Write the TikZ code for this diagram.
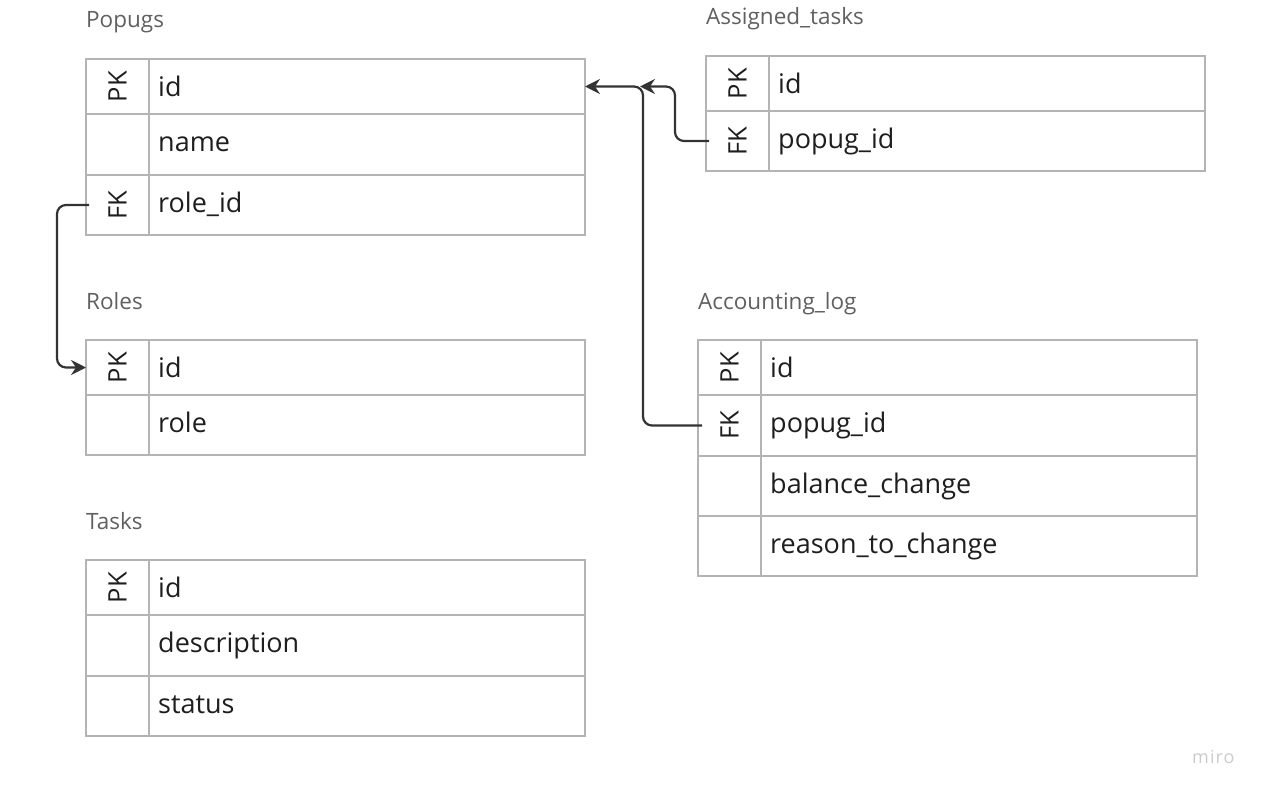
\documentclass[tikz,border=0pt]{standalone}
\usepackage{fontspec}
\setmainfont{Open Sans}
\usetikzlibrary{arrows.meta,calc}
\definecolor{cellborder}{HTML}{B4B4B4}
\definecolor{fieldink}{HTML}{1E1E1E}
\definecolor{titleink}{HTML}{606060}
\definecolor{connink}{HTML}{333333}
\definecolor{markink}{HTML}{CCCCCC}
\tikzset{
  keycell/.style={draw=cellborder, line width=1.2pt, minimum width=63pt, inner sep=0pt, outer sep=0pt, anchor=north west},
  fieldcell/.style={draw=cellborder, line width=1.2pt, minimum width=436pt, inner sep=0pt, outer sep=0pt, anchor=north west},
  keytext/.style={rotate=90, inner sep=0pt, text=fieldink, font=\fontsize{25.5pt}{30pt}\selectfont},
  fieldtext/.style={anchor=base west, inner sep=0pt, text=fieldink, font=\fontsize{27pt}{31pt}\selectfont},
  titletext/.style={anchor=base west, inner sep=0pt, text=titleink, font=\fontsize{22.5pt}{27pt}\selectfont},
  conn/.style={draw=connink, line width=2.2pt, rounded corners=9pt, -{Stealth[length=15pt,width=15pt,inset=5pt]}},
}
\newcommand{\erow}[6]{%
  \node[keycell, minimum height=#4] (#1k) at (#2,#3) {};
  \node[fieldcell, minimum height=#4] (#1f) at (#2+63,#3) {};
  \node[keytext] (#1kt) at (#1k.center) {#5};
  \node[fieldtext] (#1ft) at ($(#1f.north west)+(9,37.5)$) {#6};
}
\begin{document}
\begin{tikzpicture}[x=1pt,y=-1pt]
\path[fill=white] (0,0) rectangle (1261,792);
\useasboundingbox (0,0) rectangle (1261,792);

% Popugs
\node[titletext] (tpop) at (86,28) {Popugs};
\erow{pa}{86}{59}{55}{PK}{id}
\erow{pb}{86}{114}{61}{}{name}
\erow{pc}{86}{175}{60}{FK}{role\_id}

% Roles
\node[titletext] (trol) at (86,309) {Roles};
\erow{ra}{86}{340}{55}{PK}{id}
\erow{rb}{86}{395}{60}{}{role}

% Tasks
\node[titletext] (ttas) at (86,529) {Tasks};
\erow{ta}{86}{560}{55}{PK}{id}
\erow{tb}{86}{615}{61}{}{description}
\erow{tc}{86}{676}{60}{}{status}

% Assigned_tasks
\node[titletext] (tass) at (706,25) {Assigned\_tasks};
\erow{aa}{706}{56}{55}{PK}{id}
\erow{ab}{706}{111}{60}{FK}{popug\_id}

% Accounting_log
\node[titletext] (tacc) at (698,309) {Accounting\_log};
\erow{la}{698}{340}{55}{PK}{id}
\erow{lb}{698}{395}{61}{FK}{popug\_id}
\erow{lc}{698}{456}{60}{}{balance\_change}
\erow{ld}{698}{516}{60}{}{reason\_to\_change}

% connectors
\coordinate (jn) at ($(paf.east)+(55,0)$);
\draw[conn] ($(pck.west)+(3,0)$) -- ++(-32,0) |- (rak.west);
\draw[conn] ($(abk.west)+(3,0)$) -| ($(paf.east)+(90,0)$) -- (jn);
\draw[conn] ($(lbk.west)+(4,0)$) -| ($(paf.east)+(58,0)$) -- (paf.east);

% watermark
\node[anchor=base west, inner sep=0pt, text=markink, font=\fontsize{18pt}{22pt}\selectfont\addfontfeature{LetterSpace=6}] (miro) at (1192,763) {miro};
\end{tikzpicture}
\end{document}
